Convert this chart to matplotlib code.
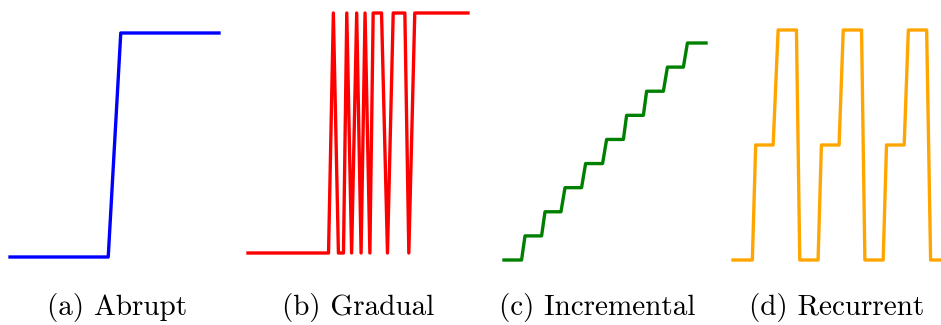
import matplotlib.pyplot as plt

# (a) abrupt drift
abrupt_t = [0, 47, 53, 100]
abrupt_v = [0, 0, 1, 1]

# (b) gradual drift
gradual_t = [0, 36.6, 38.8, 41.1, 43.4, 44.9, 47.1, 49.4, 51.4, 53.2, 55.4,
             56.9, 60.7, 63.4, 66.0, 71.3, 73.1, 75.8, 100]
gradual_v = [0, 0, 1, 0, 0, 1, 0, 1, 0, 1, 0, 1, 1, 0, 1, 1, 0, 1, 1]

# (c) incremental drift
incr_t = [0, 8.7, 10.4, 18.6, 20.3, 28.2, 30.2, 38.4, 40.4, 48.8, 50.8, 59.1,
          60.7, 69.0, 70.6, 78.9, 80.9, 88.8, 90.8, 100]
incr_v = [0, 0, 1, 1, 2, 2, 3, 3, 4, 4, 5, 5, 6, 6, 7, 7, 8, 8, 9, 9]

# (d) recurrent drift
recur_t = [0, 9.3, 10.9, 19.3, 21.7, 30.5, 32.1, 40.9, 42.5, 51.0, 53.0, 61.8,
           63.4, 72.2, 73.8, 82.3, 84.3, 93.1, 95.0, 100]
recur_v = [0, 0, .5, .5, 1, 1, 0, 0, .5, .5, 1, 1, 0, 0, .5, .5, 1, 1, 0, 0]

titles = ["(a) Abrupt", "(b) Gradual", "(c) Incremental", "(d) Recurrent"]
colors = ["blue", "red", "green", "orange"]

W, H = 941, 325
fig = plt.figure(figsize=(W / 100, H / 100), dpi=100)

# panel boxes in pixels: x0, x1, ytop, ybottom
boxes = [(10, 219, 33, 257), (248, 468, 13, 253), (504, 706, 43, 260), (733, 941, 30, 260)]
series = [(abrupt_t, abrupt_v), (gradual_t, gradual_v), (incr_t, incr_v), (recur_t, recur_v)]
label_x = [117, 358, 597, 837]

for (x0, x1, yt, yb), (t, v), c, title, lx in zip(boxes, series, colors, titles, label_x):
    ax = fig.add_axes([x0 / W, 1 - yb / H, (x1 - x0) / W, (yb - yt) / H])
    ax.plot(t, v, color=c, lw=2.4, clip_on=False, solid_joinstyle="round")
    ax.set_xlim(0, 100)
    ax.set_ylim(min(v), max(v))
    ax.axis("off")
    fig.text(lx / W, 1 - 307 / H, title, ha="center", va="center",
             fontsize=21, family="cmr10")

fig.savefig("out.png", dpi=100)
